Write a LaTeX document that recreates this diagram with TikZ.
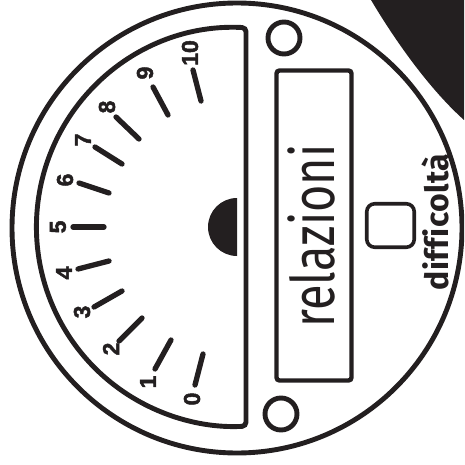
\documentclass[tikz,border=0pt]{standalone}
\usepackage{fontspec}
\setmainfont{Fira Sans}
\newfontfamily\digitfont[FakeBold=2]{Liberation Sans}
\newfontfamily\relfont[FakeStretch=0.78]{Fira Sans}
\newfontfamily\diffont[Ligatures=NoCommon,LetterSpace=1.5]{Fira Sans}
\definecolor{ink}{HTML}{231F20}
\tikzset{
  thick line/.style={draw=ink,line width=4.9pt},
  tick/.style={draw=ink,line width=5.3pt,line cap=round},
  digit/.style={text=ink,rotate=90,inner sep=0pt,font=\digitfont\bfseries\fontsize{23}{23}\selectfont},
}
\begin{document}
\begin{tikzpicture}[x=1pt,y=-1pt]
\useasboundingbox (0,0) rectangle (464,465);
\begin{scope}
\clip (0,0) rectangle (464,465);
\fill[ink] (371,0) .. controls (390,32) and (425,85) .. (464,120) -- (464,0) -- cycle;
\end{scope}
\begin{scope}
\clip (0,0) rectangle (464,465);
\draw[thick line] (237,228) circle[radius=225];
\end{scope}
\draw[thick line,rounded corners=4pt] (246,27.7) arc[start angle=-87.1,end angle=-272.9,radius=199.5] -- cycle;
\fill[ink] (237,198) arc[start angle=-90,end angle=-270,radius=29] -- cycle;
\draw[thick line] (284,38) circle[radius=16];
\draw[thick line] (281,414) circle[radius=16];
\node[draw=ink,line width=4.4pt,rounded corners=3pt,minimum width=75pt,minimum height=310pt,inner sep=0pt] (label box) at (314,225.5) {};
\node[draw=ink,line width=3.6pt,rounded corners=8pt,minimum width=47.5pt,minimum height=43.5pt,inner sep=0pt] (square) at (390.5,225.5) {};
\node[rotate=90,inner sep=0pt,text=ink,font=\relfont\fontsize{60}{60}\selectfont,anchor=base] (relazioni) at (334,236) {relazioni};
\node[rotate=90,inner sep=0pt,text=ink,font=\diffont\bfseries\fontsize{32}{32}\selectfont,anchor=base] (difficolta) at (448,222) {difficoltà};
\coordinate (a10) at (193,70); \coordinate (b10) at (201,101);
\coordinate (a9) at (153,87); \coordinate (b9) at (168,115);
\coordinate (a8) at (116,117); \coordinate (b8) at (139,139);
\coordinate (a7) at (95,147); \coordinate (b7) at (122,164);
\coordinate (a6) at (79,183); \coordinate (b6) at (109,193);
\coordinate (a5) at (73,227); \coordinate (b5) at (104,227);
\coordinate (a4) at (78,269); \coordinate (b4) at (109,261);
\coordinate (a3) at (94,307); \coordinate (b3) at (122,291);
\coordinate (a2) at (119,341); \coordinate (b2) at (142,318);
\coordinate (a1) at (155,369); \coordinate (b1) at (171,340);
\coordinate (a0) at (195,385); \coordinate (b0) at (203,354);
\foreach \n in {0,...,10} \draw[tick] (a\n) -- (b\n);
\node[digit] (n10) at (190,53) {10};
\node[digit] (n9) at (145,73) {9};
\node[digit] (n8) at (107,107) {8};
\node[digit] (n7) at (83,140) {7};
\node[digit] (n6) at (65,180) {6};
\node[digit] (n5) at (58,227) {5};
\node[digit] (n4) at (64,273) {4};
\node[digit] (n3) at (82,312) {3};
\node[digit] (n2) at (111,349) {2};
\node[digit] (n1) at (148,382) {1};
\node[digit] (n0) at (192,399) {0};
\end{tikzpicture}
\end{document}
